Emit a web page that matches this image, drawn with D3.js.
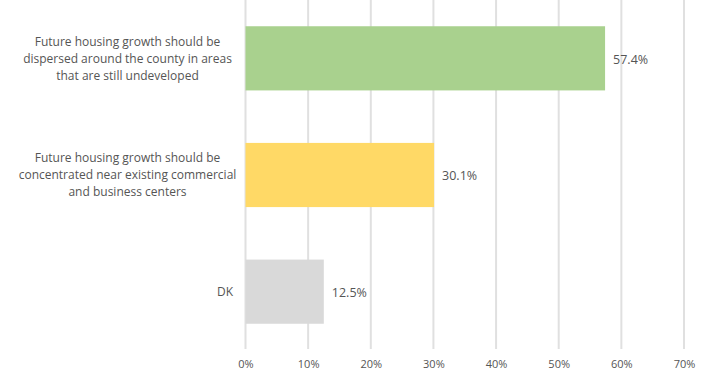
<!DOCTYPE html>
<html>
<head>
<meta charset="utf-8">
<script src="https://cdn.jsdelivr.net/npm/d3@7"></script>
<style>
  html, body { margin: 0; padding: 0; background: #fff; }
  svg text { font-family: "Open Sans", "Liberation Sans", sans-serif; fill: #555555; }
</style>
</head>
<body>
<svg id="chart" width="709" height="377"></svg>
<script>
// Survey responses on where future housing growth should go
const categories = [
  ["Future housing growth should be", "dispersed around the county in areas", "that are still undeveloped"],
  ["Future housing growth should be", "concentrated near existing commercial", "and business centers"],
  ["DK"]
];
const values = [57.4, 30.1, 12.5];
const barColors = ["#a9d18e", "#ffd966", "#d9d9d9"];
const tickValues = [0, 10, 20, 30, 40, 50, 60, 70];

const svg = d3.select("#chart");
const plotLeft = 245.5, plotRight = 684, plotTop = 0, plotBottom = 350;

const x = d3.scaleLinear().domain([0, 70]).range([plotLeft, plotRight]);
const y = d3.scaleBand().domain(d3.range(values.length)).range([plotTop, plotBottom])
  .paddingInner(0.45).paddingOuter(0.225);

// vertical gridlines
svg.append("g").selectAll("line").data(tickValues).join("line")
  .attr("x1", d => x(d)).attr("x2", d => x(d))
  .attr("y1", 0).attr("y2", 349)
  .attr("stroke", "#e0e0e0").attr("stroke-width", 2);

// bottom axis labels
const axis = d3.axisBottom(x).tickValues(tickValues).tickSize(0).tickPadding(0)
  .tickFormat(d => d + "%");
svg.append("g").attr("transform", "translate(0,360)").call(axis)
  .call(g => g.select(".domain").remove())
  .selectAll("text").attr("font-size", 11).attr("dy", "0.7em")
  .style("font-family", '"Open Sans", "Liberation Sans", sans-serif').attr("fill", "#555555");

// bars
svg.append("g").selectAll("rect").data(values).join("rect")
  .attr("x", x(0)).attr("y", (d, i) => y(i))
  .attr("width", d => x(d) - x(0)).attr("height", y.bandwidth())
  .attr("fill", (d, i) => barColors[i]);

// value labels
svg.append("g").selectAll("text").data(values).join("text")
  .attr("x", d => x(d) + 8).attr("y", (d, i) => y(i) + y.bandwidth() / 2 + 1)
  .attr("dy", "0.35em").attr("font-size", 12.5)
  .text(d => d.toFixed(1) + "%");

// category labels, centered block to the left of the bars
const lineH = 17;
const catG = svg.append("g");
categories.forEach((lines, i) => {
  const cy = y(i) + y.bandwidth() / 2;
  const cx = lines.length > 1 ? 127.5 : 225;
  const t = catG.append("text").attr("text-anchor", "middle").attr("font-size", 12).attr("x", cx);
  lines.forEach((ln, j) => {
    t.append("tspan").attr("x", cx)
      .attr("y", cy + (j - (lines.length - 1) / 2) * lineH)
      .attr("dy", "0.35em").text(ln);
  });
});
</script>
</body>
</html>
